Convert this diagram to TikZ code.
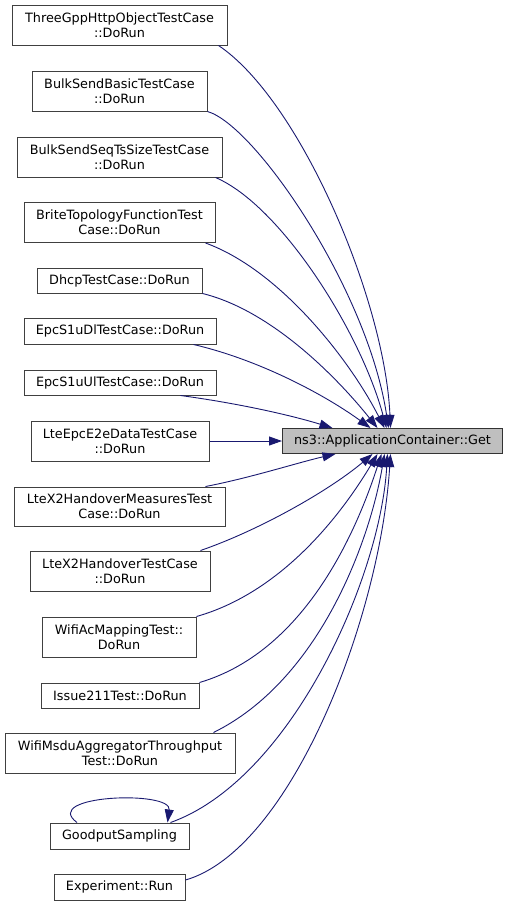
\documentclass[tikz,border=0pt]{standalone}
\usepackage{fontspec}
\setmainfont{DejaVu Sans}
\usetikzlibrary{arrows.meta}
\definecolor{edgeblue}{HTML}{191970}
\definecolor{boxgray}{HTML}{404040}
\definecolor{targetfill}{HTML}{BFBFBF}
\tikzset{
  fn/.style={draw=boxgray, line width=1pt, fill=white, inner sep=0pt, align=center,
    font=\fontsize{12.8pt}{15pt}\selectfont},
  target/.style={fn, fill=targetfill, draw=black!80},
  call/.style={draw=edgeblue, line width=0.9pt, -{Triangle[length=13pt,width=9pt]}, edgeblue},
}
\begin{document}
\begin{tikzpicture}[x=1pt,y=-1pt]
\useasboundingbox (0,0) rectangle (508,906);
% nodes
\node[fn, minimum width=215pt, minimum height=40pt] (n1) at (119.5,25) {ThreeGppHttpObjectTestCase\\::DoRun};
\node[fn, minimum width=175pt, minimum height=40pt] (n2) at (119.5,91) {BulkSendBasicTestCase\\::DoRun};
\node[fn, minimum width=205pt, minimum height=40pt] (n3) at (119.5,157) {BulkSendSeqTsSizeTestCase\\::DoRun};
\node[fn, minimum width=191pt, minimum height=40pt] (n4) at (119.5,222.5) {BriteTopologyFunctionTest\\Case::DoRun};
\node[fn, minimum width=165pt, minimum height=25pt] (n5) at (119.5,280.5) {DhcpTestCase::DoRun};
\node[fn, minimum width=192pt, minimum height=26pt] (n6) at (120,331) {EpcS1uDlTestCase::DoRun};
\node[fn, minimum width=192pt, minimum height=25pt] (n7) at (120,382.5) {EpcS1uUlTestCase::DoRun};
\node[fn, minimum width=178pt, minimum height=40pt] (n8) at (120,441) {LteEpcE2eDataTestCase\\::DoRun};
\node[fn, minimum width=211pt, minimum height=39pt] (n9) at (119.5,506.5) {LteX2HandoverMeasuresTest\\Case::DoRun};
\node[fn, minimum width=180pt, minimum height=40pt] (n10) at (120,571) {LteX2HandoverTestCase\\::DoRun};
\node[fn, minimum width=154pt, minimum height=40pt] (n11) at (119,637) {WifiAcMappingTest::\\DoRun};
\node[fn, minimum width=158pt, minimum height=25pt] (n12) at (120,695.5) {Issue211Test::DoRun};
\node[fn, minimum width=230pt, minimum height=40pt] (n13) at (120,753) {WifiMsduAggregatorThroughput\\Test::DoRun};
\node[fn, minimum width=139pt, minimum height=26pt] (n14) at (119.5,836) {GoodputSampling};
\node[fn, minimum width=131pt, minimum height=26pt] (n15) at (119.5,887) {Experiment::Run};
\node[target, minimum width=220pt, minimum height=25pt] (T) at (392.5,441) {ns3::ApplicationContainer::Get};
% edges
\draw[call] ([xshift=-9pt]n1.south east) .. controls (300,100) and (385,300) .. ([xshift=-2pt]T.north);
\draw[call] (n2.south east) .. controls (255,125) and (368,290) .. ([xshift=-4pt]T.north);
\draw[call] ([xshift=-7pt]n3.south east) .. controls (280,205) and (360,330) .. ([xshift=-6pt]T.north);
\draw[call] ([xshift=-10pt]n4.south east) .. controls (280,270) and (350,360) .. ([xshift=-8pt]T.north);
\draw[call] (n5.south east) .. controls (270,310) and (335,375) .. ([xshift=-15pt]T.north);
\draw[call] ([xshift=-23pt]n6.south east) .. controls (260,360) and (325,395) .. ([xshift=-22pt]T.north);
\draw[call] ([xshift=-36pt]n7.south east) .. controls (250,405) and (300,418) .. ([xshift=-60pt]T.north);
\draw[call] (n8.east) -- (T.west);
\draw[call] ([xshift=-20pt]n9.north east) .. controls (250,478) and (300,462) .. ([xshift=-57pt]T.south);
\draw[call] ([xshift=-10pt]n10.north east) .. controls (260,530) and (330,490) .. ([xshift=-20pt]T.south);
\draw[call] (n11.north east) .. controls (290,590) and (350,500) .. ([xshift=-15pt]T.south);
\draw[call] (n12.north east) .. controls (310,650) and (360,520) .. ([xshift=-11pt]T.south);
\draw[call] ([xshift=-22pt]n13.north east) .. controls (320,680) and (370,540) .. ([xshift=-8pt]T.south);
\draw[call] ([xshift=-19pt]n14.north east) .. controls (290,780) and (380,580) .. ([xshift=-5pt]T.south);
\draw[call] ([yshift=7pt]n15.east) .. controls (290,850) and (380,620) .. ([xshift=-2pt]T.south);
% self loop
\draw[call] ([xshift=-42.5pt]n14.north) .. controls (40,795) and (172,790) .. ([xshift=48pt]n14.north);
\end{tikzpicture}
\end{document}
